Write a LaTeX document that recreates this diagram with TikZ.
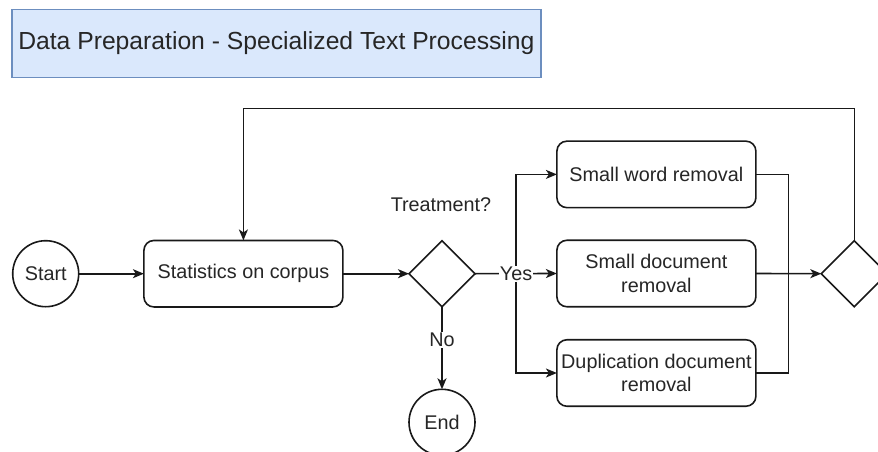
\documentclass[tikz,border=0pt]{standalone}
\usepackage{fontspec}
\setmainfont{Liberation Sans}
\usetikzlibrary{shapes.geometric,arrows.meta}
\begin{document}
\begin{tikzpicture}[x=1pt,y=-1pt,
  every node/.style={inner sep=0pt,outer sep=0pt},
  lbl/.style={font=\fontsize{19.8}{23.5}\selectfont,text=black!85},
  procbox/.style={draw=black!90,line width=1.6pt,rounded corners=10pt,minimum width=199pt,minimum height=66.5pt,align=center,lbl},
  ev/.style={draw=black!90,line width=1.6pt,circle,minimum size=66pt,lbl},
  gate/.style={draw=black!90,line width=1.6pt,diamond,aspect=1,minimum width=66pt,minimum height=66pt},
  conn/.style={line width=1.6pt,draw=black!90},
  arr/.style={conn,-{Stealth[length=11pt,width=9pt,inset=3pt]}},
  edgelbl/.style={lbl,fill=white,inner sep=1pt}
]
\useasboundingbox (0,0) rectangle (878,452);
\fill[white] (0,0) rectangle (878,452);

% title
\node[draw={rgb,255:red,108;green,142;blue,191},fill={rgb,255:red,218;green,232;blue,252},line width=1.3pt,
  minimum width=529pt,minimum height=68pt,font=\fontsize{24.7}{29}\selectfont,text=black!85] (title) at (276.4,43.3) {Data Preparation - Specialized Text Processing};

% nodes
\node[ev] (start) at (45.7,273.7) {Start};
\node[procbox] (stats) at (243.4,273.7) {Statistics on corpus};
\node[gate] (dia) at (442,273.7) {};
\node[lbl] (treat) at (441,205) {Treatment?};
\node[ev] (end) at (442,422.3) {End};
\node[procbox] (sw) at (656.4,174.4) {Small word removal};
\node[procbox] (sd) at (656.4,273.5) {Small document\\removal};
\node[procbox] (dup) at (656.4,373) {Duplication document\\removal};
\node[gate] (rd) at (854.3,273.7) {};

\coordinate (ysplit) at (516,273.7);
\coordinate (merge) at (788.3,273.7);
\coordinate (loopy) at (0,108.3);

% connectors
\draw[arr] (start) -- (stats);
\draw[arr] (stats) -- (dia.west);
\draw[arr] (ysplit) |- (sw.west);
\draw[arr] (ysplit) |- (dup.west);
\draw[arr] (dia.east) -- (sd.west);
\node[edgelbl] (yes) at (ysplit) {Yes};
\draw[arr] (dia.south) -- (end.north);
\node[edgelbl] (no) at (442,340) {No};
\draw[conn] (sw.east) -| (merge);
\draw[conn] (dup.east) -| (merge);
\draw[arr] (sd.east) -- (rd.west);
\draw[arr] (rd.north) |- (stats.north |- loopy) -- (stats.north);
\end{tikzpicture}
\end{document}
